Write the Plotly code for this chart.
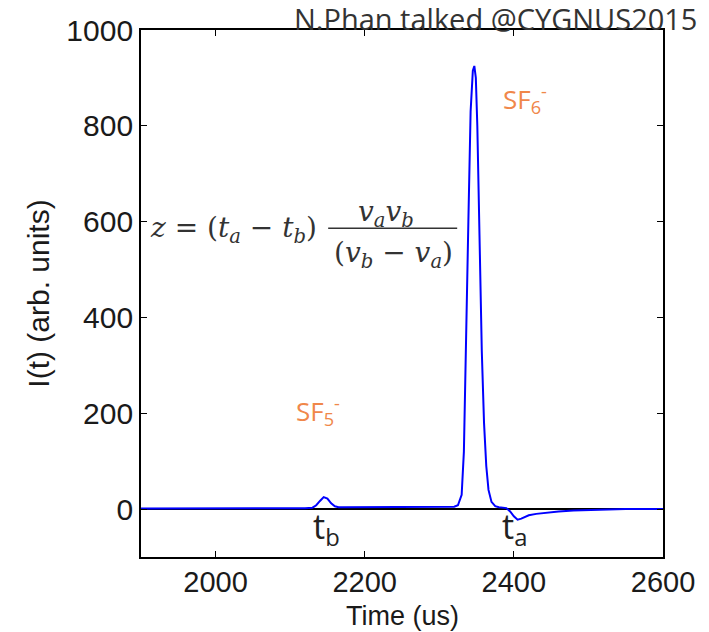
import plotly.graph_objects as go

# Time (us)
time_us = [1900, 1950, 2000, 2050, 2100, 2120, 2130, 2135, 2140, 2145, 2150, 2155, 2160,
           2165, 2170, 2180, 2200, 2250, 2300, 2320, 2325, 2330, 2333, 2336, 2339, 2342,
           2345, 2347, 2349, 2351, 2353, 2355, 2357, 2360, 2363, 2366, 2370, 2375, 2380,
           2390, 2395, 2400, 2405, 2410, 2415, 2420, 2430, 2440, 2460, 2480, 2500, 2550, 2600]
# I(t) (arb. units)
current = [1, 1, 1, 2, 2, 2, 3, 8, 17, 25, 22, 12, 6,
           4, 4, 4, 4, 4, 4, 5, 8, 30, 120, 330, 600, 830,
           915, 925, 900, 800, 640, 470, 330, 180, 90, 40, 15, 6, 4,
           2, -5, -15, -22, -20, -16, -13, -10, -8, -5, -3, -2, 0, 0]

x_ticks = [2000, 2200, 2400, 2600]
y_ticks = [0, 200, 400, 600, 800, 1000]

TICKFONT = dict(family="Liberation Sans", size=30, color="#1a1a1a")
XTICKFONT = dict(family="Liberation Sans", size=29, color="#1a1a1a")
ORANGE = "#f0874a"

fig = go.Figure()
fig.add_trace(go.Scatter(x=time_us, y=current, mode="lines",
                         line=dict(color="#0000ff", width=2), showlegend=False))

fig.update_layout(
    width=709, height=632,
    margin=dict(l=141, r=46, t=30, b=75),
    paper_bgcolor="white", plot_bgcolor="white",
    xaxis=dict(range=[1900, 2600], tickvals=x_ticks, ticks="inside", ticklen=6,
               tickcolor="black", showline=True, linecolor="black", linewidth=1.8,
               mirror="ticks", showgrid=False, zeroline=False, tickfont=XTICKFONT,
               ticklabelstandoff=-2),
    yaxis=dict(range=[-100, 1000], tickvals=y_ticks, ticks="inside", ticklen=6,
               tickcolor="black", showline=True, linecolor="black", linewidth=1.8,
               mirror="ticks", showgrid=False, zeroline=True, zerolinecolor="black",
               zerolinewidth=1.5, tickfont=TICKFONT,
               title=dict(text="I(t) (arb. units)", font=TICKFONT, standoff=8)),
)

ann = []
ann.append(dict(text="Time (us)", xref="paper", yref="paper", x=0.5, y=-0.112,
                xanchor="center", yanchor="middle", showarrow=False,
                font=dict(family="Liberation Sans", size=27, color="#1a1a1a")))
ann.append(dict(text="N.Phan talked @CYGNUS2015", xref="paper", yref="paper",
                x=1.069, y=1.021, xanchor="right", yanchor="middle", showarrow=False,
                font=dict(family="Open Sans", size=29, color="#333333")))
ann.append(dict(text="SF<sub>6</sub><sup>-</sup>", x=2415, y=855, showarrow=False,
                font=dict(family="Open Sans", size=26, color=ORANGE)))
ann.append(dict(text="SF<sub>5</sub><sup>-</sup>", x=2137, y=204, showarrow=False,
                font=dict(family="Open Sans", size=26, color=ORANGE)))
ann.append(dict(text="t<sub>b</sub>", x=2149, y=-40, showarrow=False,
                font=dict(family="Open Sans", size=34, color="#222222")))
ann.append(dict(text="t<sub>a</sub>", x=2401, y=-40, showarrow=False,
                font=dict(family="Open Sans", size=34, color="#222222")))
FF = dict(family="DejaVu Serif", size=28, color="#333333")
ann.append(dict(text="<i>z</i> = (<i>t<sub>a</sub></i> − <i>t<sub>b</sub></i>)",
                x=1909, y=584, xanchor="left", showarrow=False, font=FF))
ann.append(dict(text="<i>v<sub>a</sub>v<sub>b</sub></i>", x=2228, y=618,
                showarrow=False, font=FF))
ann.append(dict(text="(<i>v<sub>b</sub></i> − <i>v<sub>a</sub></i>)", x=2238, y=532,
                showarrow=False, font=FF))
fig.update_layout(annotations=ann)
fig.add_shape(type="line", x0=2151, x1=2324, y0=586, y1=586,
              line=dict(color="#333333", width=1.5))

fig.write_html("out.html")
